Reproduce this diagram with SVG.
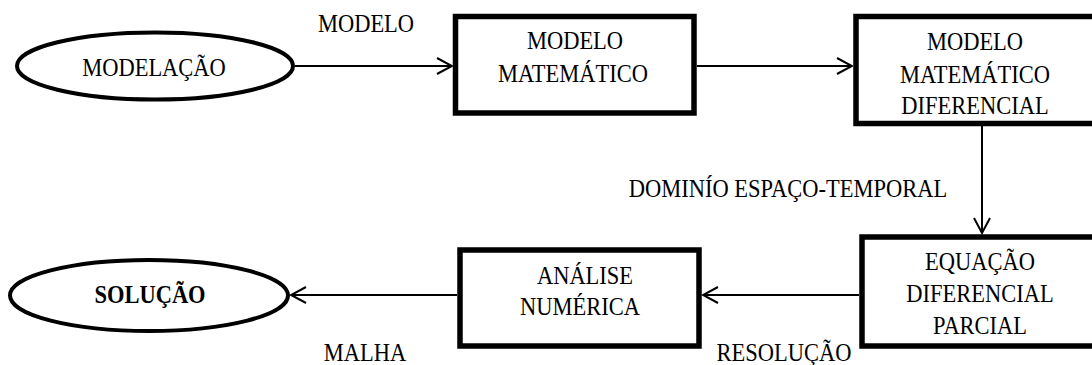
<svg xmlns="http://www.w3.org/2000/svg" width="1092" height="365" viewBox="0 0 1092 365">
<style>
.t{font-family:"Liberation Serif","Times New Roman",serif;font-size:22.5px;fill:#000;text-anchor:middle}
.b{font-weight:bold}
.box{fill:#fff;stroke:#000;stroke-width:5.5}
.ell{fill:#fff;stroke:#000;stroke-width:4}
.con{fill:none;stroke:#000;stroke-width:2}
</style>
<defs>
<marker id="arr" viewBox="-17 -10 19 20" refX="0" refY="0" markerWidth="19" markerHeight="20" markerUnits="userSpaceOnUse" orient="auto">
<path d="M-15,-8 L0,0 L-15,8" fill="none" stroke="#000" stroke-width="2"/>
</marker>
</defs>
<rect width="1092" height="365" fill="#fff"/>
<g id="connectors">
<line class="con" x1="295" y1="66" x2="452" y2="66" marker-end="url(#arr)"/>
<line class="con" x1="697" y1="66" x2="852" y2="66" marker-end="url(#arr)"/>
<line class="con" x1="982" y1="126" x2="982" y2="233" marker-end="url(#arr)"/>
<line class="con" x1="859" y1="295" x2="703" y2="295" marker-end="url(#arr)"/>
<line class="con" x1="457" y1="295" x2="291" y2="295" marker-end="url(#arr)"/>
</g>
<g id="labels">
<text class="t" transform="translate(366,32) scale(1,1.12)">MODELO</text>
<text class="t" transform="translate(788,197) scale(1,1.12)">DOMINÍO ESPAÇO-TEMPORAL</text>
<text class="t" transform="translate(365,361) scale(1,1.12)">MALHA</text>
<text class="t" transform="translate(784,361) scale(1,1.12)">RESOLUÇÃO</text>
</g>
<g id="modelacao">
<ellipse class="ell" cx="155" cy="66" rx="138" ry="33.5"/>
<text class="t" transform="translate(154,76) scale(1,1.12)">MODELAÇÃO</text>
</g>
<g id="modelo-matematico">
<rect class="box" x="455.5" y="16.5" width="238.5" height="96.5"/>
<text class="t" transform="translate(575,49) scale(1,1.12)">MODELO</text>
<text class="t" transform="translate(573,82) scale(1,1.12)">MATEMÁTICO</text>
</g>
<g id="modelo-matematico-diferencial">
<rect class="box" x="856" y="16.5" width="240" height="107"/>
<text class="t" transform="translate(975,50) scale(1,1.12)">MODELO</text>
<text class="t" transform="translate(975,83) scale(1,1.12)">MATEMÁTICO</text>
<text class="t" transform="translate(975,114) scale(1,1.12)">DIFERENCIAL</text>
</g>
<g id="equacao-diferencial-parcial">
<rect class="box" x="862" y="237" width="240" height="109"/>
<text class="t" transform="translate(980,270) scale(1,1.12)">EQUAÇÃO</text>
<text class="t" transform="translate(980,302) scale(1,1.12)">DIFERENCIAL</text>
<text class="t" transform="translate(980,334) scale(1,1.12)">PARCIAL</text>
</g>
<g id="analise-numerica">
<rect class="box" x="460" y="250" width="239" height="96"/>
<text class="t" transform="translate(585,284) scale(1,1.12)">ANÁLISE</text>
<text class="t" transform="translate(580,315) scale(1,1.12)">NUMÉRICA</text>
</g>
<g id="solucao">
<ellipse class="ell" cx="149" cy="295.5" rx="139" ry="35.5"/>
<text class="t b" transform="translate(150,303) scale(1,1.12)">SOLUÇÃO</text>
</g>
</svg>
